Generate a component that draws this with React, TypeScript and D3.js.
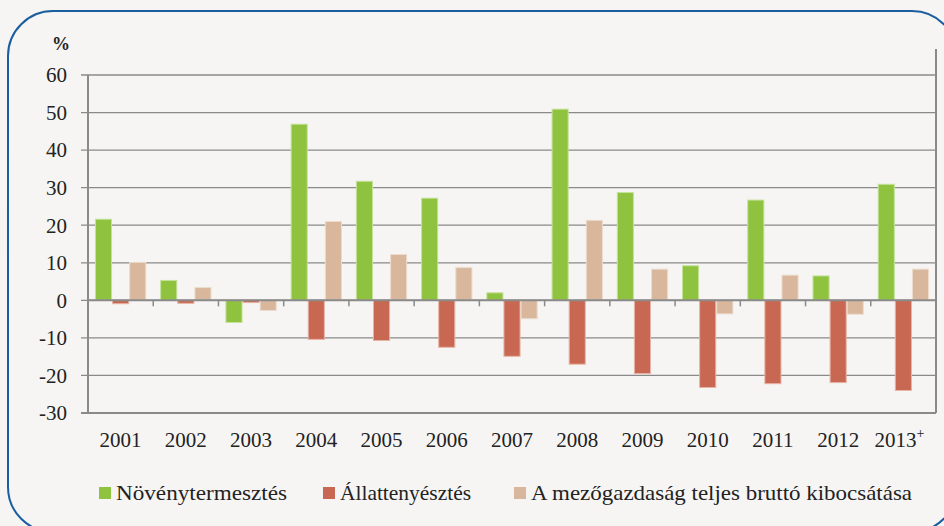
import React, {useEffect, useRef} from "react";
import * as d3 from "d3";

const years = ["2001", "2002", "2003", "2004", "2005", "2006", "2007", "2008", "2009", "2010", "2011", "2012", "2013"];
const seriesNames = ["Növénytermesztés", "Állattenyésztés", "A mezőgazdaság teljes bruttó kibocsátása"];
const crops = [21.6, 5.3, -5.9, 46.9, 31.7, 27.2, 2.0, 50.9, 28.7, 9.2, 26.7, 6.5, 30.9];
const animals = [-0.9, -0.8, -0.6, -10.4, -10.7, -12.5, -14.9, -17.0, -19.5, -23.2, -22.2, -21.9, -24.0];
const total = [10.1, 3.4, -2.7, 21.0, 12.2, 8.7, -4.9, 21.3, 8.3, -3.6, 6.7, -3.7, 8.3];
const yTicks = [60, 50, 40, 30, 20, 10, 0, -10, -20, -30];
const colors = ["#8fc23f", "#c86852", "#d8b79d"];
const edges = ["#c4e29a", "#e6b4a6", "#ecdccd"];

const W = 944, H = 526;
const margin = {left: 88, right: 8, top: 75, bottom: 113};
const font = "'Liberation Serif', 'Times New Roman', Tinos, 'DejaVu Serif', 'Noto Serif', serif";

function App() {
    const ref = useRef<SVGSVGElement>(null);

    useEffect(() => {
        const svg = d3.select(ref.current);
        svg.selectAll("*").remove();
        const innerW = W - margin.left - margin.right;
        const innerH = H - margin.top - margin.bottom;

        svg.append("rect").attr("width", W).attr("height", H).attr("fill", "#f6f5f3");
        svg.append("rect")
            .attr("x", 8).attr("y", 11).attr("width", 949).attr("height", 521)
            .attr("rx", 45).attr("fill", "none")
            .attr("stroke", "#1a5e9f").attr("stroke-width", 2);

        const y = d3.scaleLinear().domain([-30, 60]).range([innerH, 0]);
        const x0 = d3.scaleBand().domain(years).range([0, innerW]).paddingInner(0.213).paddingOuter(0.1065);
        const x1 = d3.scaleBand().domain(["0", "1", "2"]).range([0, x0.bandwidth()]);

        const g = svg.append("g").attr("transform", `translate(${margin.left},${margin.top})`);

        // gridlines + tick labels
        g.selectAll(".grid").data(yTicks).enter().append("line")
            .attr("x1", -7).attr("x2", innerW)
            .attr("y1", d => y(d)).attr("y2", d => y(d))
            .attr("stroke", "#8a8a8a").attr("stroke-width", d => d === -30 ? 2 : 1.3);
        g.selectAll(".ylab").data(yTicks).enter().append("text")
            .attr("x", -21).attr("y", d => y(d)).attr("dy", "0.35em")
            .attr("text-anchor", "end").attr("font-family", font).attr("font-size", 21)
            .attr("fill", "#222").text(d => d);
        g.append("text").attr("x", -18).attr("y", -25).attr("text-anchor", "end")
            .attr("font-family", font).attr("font-size", 18).attr("font-weight", "bold")
            .attr("fill", "#222").text("%");

        // bars
        const rows = years.map((yr, i) => ({yr, vals: [crops[i], animals[i], total[i]]}));
        const grp = g.selectAll(".grp").data(rows).enter().append("g")
            .attr("transform", d => `translate(${x0(d.yr)},0)`);
        grp.selectAll("rect").data(d => d.vals.map((v, k) => ({v, k}))).enter().append("rect")
            .attr("x", d => x1(String(d.k))! + 0.5)
            .attr("width", x1.bandwidth() - 1)
            .attr("y", d => y(Math.max(0, d.v)))
            .attr("height", d => Math.abs(y(d.v) - y(0)))
            .attr("fill", d => colors[d.k])
            .attr("stroke", d => edges[d.k]).attr("stroke-width", 1);

        // axes frame
        g.append("line").attr("x1", 0).attr("x2", 0).attr("y1", 0).attr("y2", innerH)
            .attr("stroke", "#8a8a8a").attr("stroke-width", 2);
        g.append("line").attr("x1", innerW).attr("x2", innerW).attr("y1", -26).attr("y2", innerH)
            .attr("stroke", "#8a8a8a").attr("stroke-width", 2);
        g.append("line").attr("x1", 0).attr("x2", innerW).attr("y1", y(0)).attr("y2", y(0))
            .attr("stroke", "#8a8a8a").attr("stroke-width", 2);
        const step = x0.step();
        g.selectAll(".xt").data(d3.range(1, years.length)).enter().append("line")
            .attr("x1", d => d * step).attr("x2", d => d * step)
            .attr("y1", y(0)).attr("y2", y(0) + 6)
            .attr("stroke", "#8a8a8a").attr("stroke-width", 1.5);

        // category labels
        const xl = g.selectAll(".xl").data(years).enter().append("text")
            .attr("x", d => x0(d)! + x0.bandwidth() / 2 - (d === "2013" ? 4 : 0))
            .attr("y", innerH + 34)
            .attr("text-anchor", "middle").attr("font-family", font).attr("font-size", 21)
            .attr("fill", "#222");
        xl.append("tspan").text(d => d);
        xl.filter(d => d === "2013").append("tspan").attr("dy", -9).attr("font-size", 14).text("+");

        // legend
        const legendX = [99, 323, 514];
        const legendLen = [171, 131, 381];
        const lg = svg.selectAll(".lg").data(seriesNames).enter().append("g")
            .attr("transform", (d, i) => `translate(${legendX[i]},487)`);
        lg.append("rect").attr("width", 12).attr("height", 12).attr("fill", (d, i) => colors[i]);
        lg.append("text").attr("x", 17).attr("y", 6).attr("dy", "0.35em")
            .attr("font-family", font).attr("font-size", 21).attr("fill", "#222")
            .attr("textLength", (d, i) => legendLen[i]).attr("lengthAdjust", "spacingAndGlyphs")
            .text(d => d);
    }, []);

    return <svg ref={ref} width={W} height={H} style={{position: "absolute", left: 0, top: 0}}/>;
}

export default App;
